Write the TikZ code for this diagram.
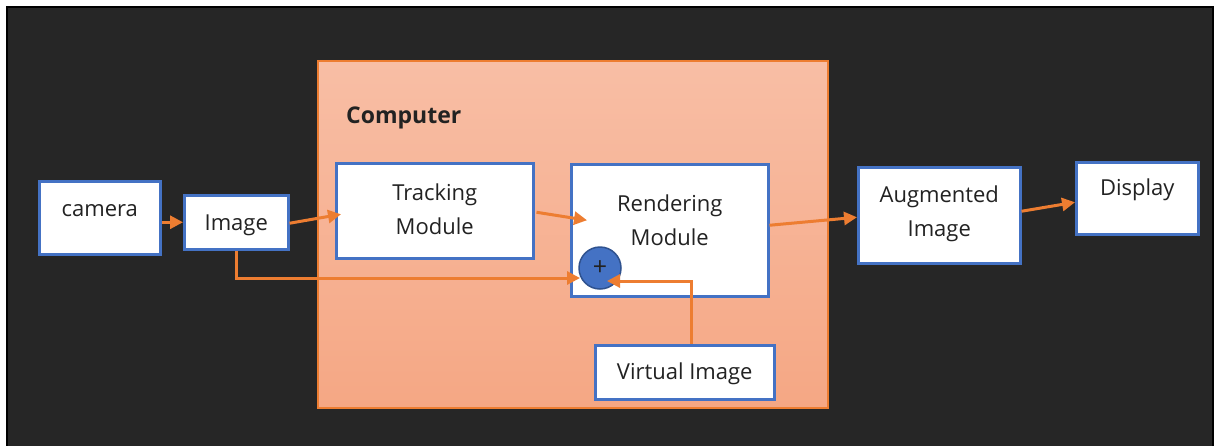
\documentclass[tikz,border=0pt]{standalone}
\usepackage{fontspec}
\setmainfont{Open Sans}
\usetikzlibrary{arrows.meta,calc}
\definecolor{bgdark}{HTML}{262626}
\definecolor{obord}{HTML}{ED7D31}
\definecolor{bblue}{HTML}{4472C4}
\definecolor{dblue}{HTML}{2F528F}
\definecolor{ctop}{HTML}{F8BEA5}
\definecolor{cbot}{HTML}{F5A784}
\definecolor{txt}{HTML}{222222}
\tikzset{
  box/.style={draw=bblue, line width=2.5pt, fill=white, anchor=north west, inner sep=0pt,
    align=center, text=txt, font=\fontsize{22}{34}\selectfont, text height=30pt},
  conn/.style={draw=obord, line width=3pt, -{Triangle[length=13pt,width=13pt]}},
}
\begin{document}
\begin{tikzpicture}[x=1pt,y=-1pt]
\useasboundingbox (0,0) rectangle (1214,445);
\fill[white] (0,0) rectangle (1214,445);
\draw[fill=bgdark, draw=black, line width=2pt] (7,7) rectangle (1212.5,460);
% computer
\shade[top color=ctop, bottom color=cbot, draw=obord, line width=1.5pt] (318,61) rectangle (828,408);
\node[anchor=base west, inner sep=0pt, text=txt, font=\fontsize{23}{26}\selectfont\bfseries] (comp) at (346,123) {Computer};
% boxes
\node[box, minimum width=121pt, minimum height=73pt, text depth=33pt] (camera) at (38,180) {camera};
\node[box, minimum width=104pt, minimum height=54pt, text depth=14pt] (img) at (183,194) {Image};
\node[box, minimum width=197pt, minimum height=95pt, text height=60pt, text depth=13pt] (track) at (335,162) {Tracking\\Module};
\node[box, minimum width=197pt, minimum height=132pt, text height=60pt, text depth=30pt] (render) at (570,163) {Rendering\\Module};
\node[box, minimum width=179pt, minimum height=54pt, text depth=16pt] (virt) at (594,344) {Virtual Image};
\node[box, minimum width=162pt, minimum height=96pt, text height=60pt, text depth=18pt] (aug) at (857,166) {Augmented\\Image};
\node[box, minimum width=122pt, minimum height=72pt, text depth=36pt] (disp) at (1075,161) {Display};
% plus
\node[circle, fill=bblue, draw=dblue, line width=1.5pt, minimum size=42pt, inner sep=0pt, text=txt, font=\fontsize{25}{28}\selectfont] (plus) at (600,268) {+};
% connectors
\draw[conn] (camera.east |- img.west) -- (img.west);
\draw[conn] ($(img.east)+(0,1)$) -- ($(track.west)+(6,3.5)$);
\draw[conn] ($(track.east)+(2,1.5)$) -- ($(render.west)+(17,-10)$);
\draw[conn] ($(render.east)+(0,-5)$) -- ($(aug.west)+(0,2)$);
\draw[conn] ($(aug.east)+(0,-4)$) -- ($(disp.west)+(0,4)$);
\draw[conn] (img.south) |- ($(plus.center)+(-20,10)$);
\draw[conn] ($(virt.north)+(6.5,0)$) |- ($(plus.center)+(7,13)$);
\end{tikzpicture}
\end{document}
